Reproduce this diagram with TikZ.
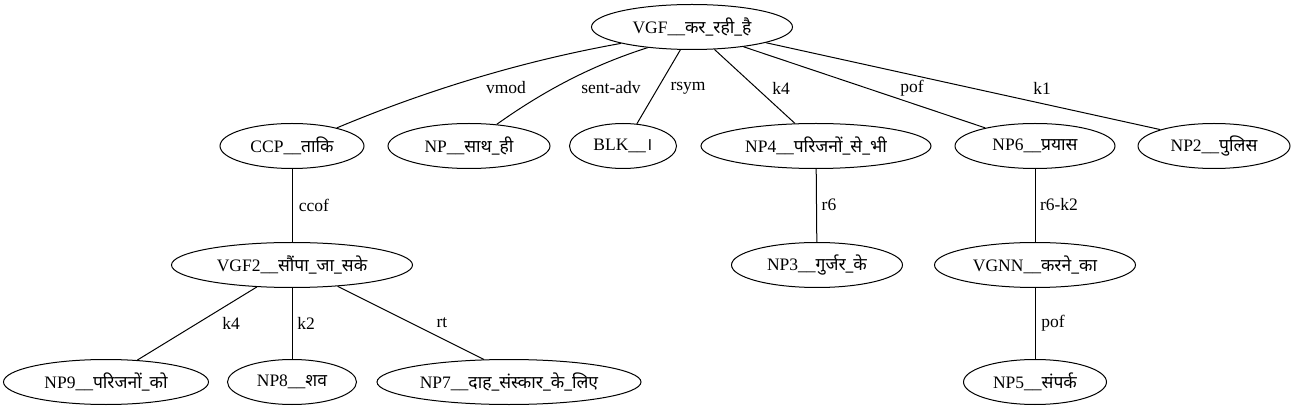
\documentclass[tikz,border=0pt]{standalone}
\usepackage{fontspec}
\setmainfont{Liberation Serif}
\newfontfamily\deva[Script=Devanagari]{Noto Sans}
\usetikzlibrary{shapes.geometric}
\newcommand{\dv}[1]{{\deva #1}}
\begin{document}
\begin{tikzpicture}[x=1pt,y=-1pt,font=\fontsize{17.5}{20}\selectfont,
  nd/.style={draw,ellipse,inner sep=0pt,minimum height=45pt,line width=1pt},
  lbl/.style={inner sep=0pt},
  edge/.style={line width=1pt}]
\useasboundingbox (0,0) rectangle (1297,411);
% nodes
\node[nd,minimum width=201pt] (root) at (692,27) {VGF\_\_\dv{कर\_रही\_है}};
\node[nd,minimum width=144pt] (ccp) at (292,146) {CCP\_\_\dv{ताकि}};
\node[nd,minimum width=162pt] (sath) at (469,146) {NP\_\_\dv{साथ\_ही}};
\node[nd,minimum width=107pt] (blk) at (623,146) {BLK\_\_\dv{।}};
\node[nd,minimum width=230pt] (np4) at (816,146) {NP4\_\_\dv{परिजनों\_से\_भी}};
\node[nd,minimum width=160pt] (np6) at (1035,146) {NP6\_\_\dv{प्रयास}};
\node[nd,minimum width=152pt] (np2) at (1214,146) {NP2\_\_\dv{पुलिस}};
\node[nd,minimum width=241pt] (vgf2) at (292,265) {VGF2\_\_\dv{सौंपा\_जा\_सके}};
\node[nd,minimum width=171pt] (np3) at (817,265) {NP3\_\_\dv{गुर्जर\_के}};
\node[nd,minimum width=201pt] (vgnn) at (1035,265) {VGNN\_\_\dv{करने\_का}};
\node[nd,minimum width=205pt] (np9) at (106,382) {NP9\_\_\dv{परिजनों\_को}};
\node[nd,minimum width=129pt] (np8) at (292,382) {NP8\_\_\dv{शव}};
\node[nd,minimum width=264pt] (np7) at (509,382) {NP7\_\_\dv{दाह\_संस्कार\_के\_लिए}};
\node[nd,minimum width=143pt] (np5) at (1035,382) {NP5\_\_\dv{संपर्क}};
% edges
\draw[edge] (root.193.7) .. controls (528,60) and (432,88) .. (ccp.22.9);
\draw[edge] (root.205) .. controls (593,65) and (545,90) .. (sath.38.4);
\draw[edge] (root.243.4) -- (blk.58.7);
\draw[edge] (root.-45) -- (np4.133.7);
\draw[edge] (root.-21.1) -- (np6.160.2);
\draw[edge] (root.-12.5) -- (np2.163.4);
\draw[edge] (ccp) -- (vgf2);
\draw[edge] (vgf2.212.2) -- (np9.35.2);
\draw[edge] (vgf2) -- (np8);
\draw[edge] (vgf2.-25.6) -- (np7.138.4);
\draw[edge] (np4) -- (np3);
\draw[edge] (np6) -- (vgnn);
\draw[edge] (vgnn) -- (np5);
% labels
\node[lbl] (l1) at (506,88) {vmod};
\node[lbl] (l2) at (611,88) {sent-adv};
\node[lbl] (l3) at (688,88) {rsym};
\node[lbl] (l4) at (781,88) {k4};
\node[lbl] (l5) at (912,88) {pof};
\node[lbl] (l6) at (1042,88) {k1};
\node[lbl] (l7) at (314,205) {ccof};
\node[lbl] (l8) at (231,323) {k4};
\node[lbl] (l9) at (306,323) {k2};
\node[lbl] (l10) at (442,323) {rt};
\node[lbl] (l11) at (829,205) {r6};
\node[lbl] (l12) at (1059,205) {r6-k2};
\node[lbl] (l13) at (1053,323) {pof};
\end{tikzpicture}
\end{document}
